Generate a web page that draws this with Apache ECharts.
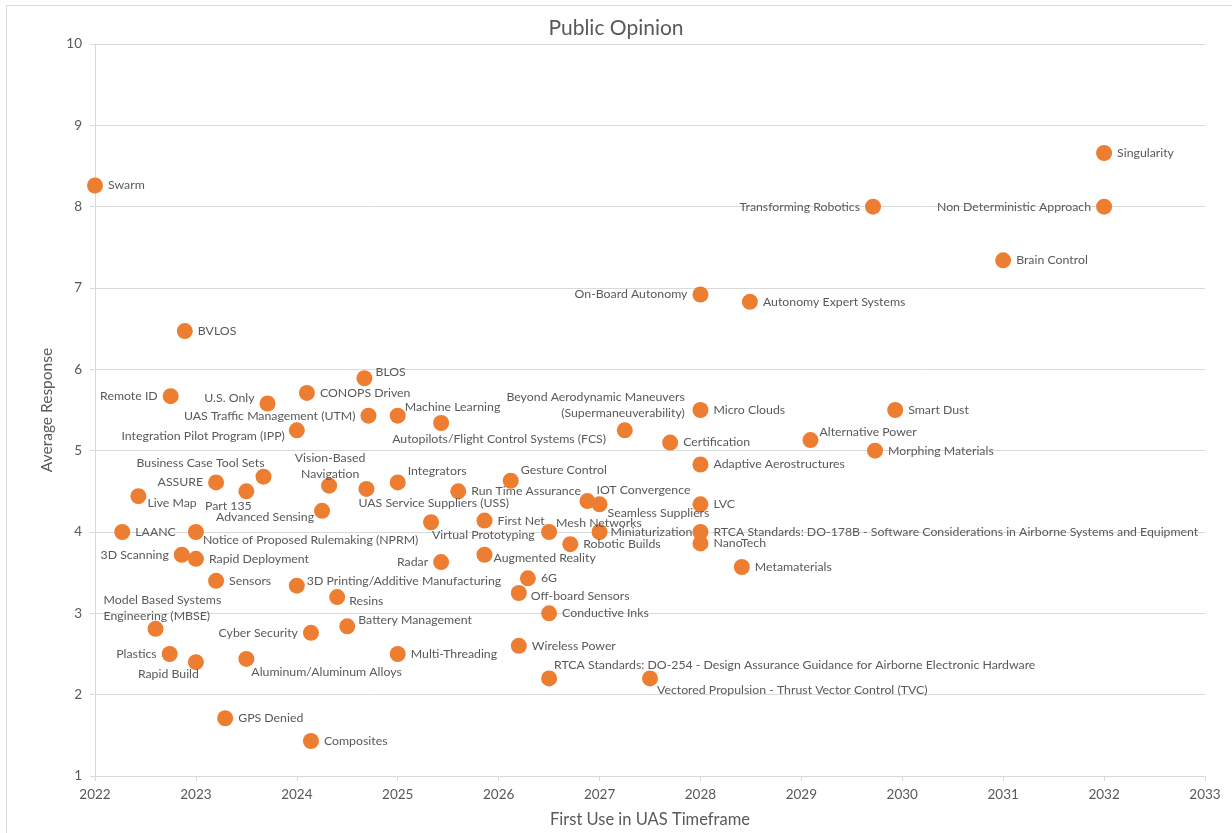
<!DOCTYPE html>
<html>
<head>
<meta charset="utf-8">
<title>Public Opinion</title>
<script src="https://cdn.jsdelivr.net/npm/echarts@6/dist/echarts.min.js"></script>
<style>
  html, body { margin: 0; padding: 0; background: #ffffff; }
  #chart { width: 1232px; height: 833px; }
</style>
</head>
<body>
<div id="chart"></div>
<script>
// Technologies, the year each is expected to be first used in UAS, and the average survey response
const technologies = [
  'Swarm', 'BVLOS', 'Remote ID', 'U.S. Only', 'CONOPS Driven', 'BLOS',
  'UAS Traffic Management (UTM)', 'Machine Learning', 'Autopilots/Flight Control Systems (FCS)',
  'Integration Pilot Program (IPP)', 'Beyond Aerodynamic Maneuvers\n(Supermaneuverability)',
  'Micro Clouds', 'Smart Dust', 'Certification', 'Alternative Power', 'Morphing Materials',
  'Adaptive Aerostructures', 'Business Case Tool Sets', 'ASSURE', 'Part 135', 'Live Map',
  'Vision-Based\nNavigation', 'UAS Service Suppliers (USS)', 'Integrators', 'Advanced Sensing',
  'LAANC', 'Notice of Proposed Rulemaking (NPRM)', '3D Scanning', 'Rapid Deployment', 'Sensors',
  '3D Printing/Additive Manufacturing', 'Resins', 'Model Based Systems\nEngineering (MBSE)',
  'Cyber Security', 'Battery Management', 'Plastics', 'Rapid Build', 'Aluminum/Aluminum Alloys',
  'Multi-Threading', 'GPS Denied', 'Composites', 'Run Time Assurance', 'Gesture Control',
  'IOT Convergence', 'Seamless Suppliers', 'First Net', 'Virtual Prototyping', 'Mesh Networks',
  'Miniaturization', 'Robotic Builds', 'Radar', 'Augmented Reality', '6G', 'Off-board Sensors',
  'Conductive Inks', 'Wireless Power',
  'RTCA Standards: DO-254 - Design Assurance Guidance for Airborne Electronic Hardware',
  'Vectored Propulsion - Thrust Vector Control (TVC)', 'LVC',
  'RTCA Standards: DO-178B - Software Considerations in Airborne Systems and Equipment',
  'NanoTech', 'Metamaterials', 'Singularity', 'Transforming Robotics',
  'Non Deterministic Approach', 'Brain Control', 'On-Board Autonomy', 'Autonomy Expert Systems'
];

const firstUse = [
  2022.0, 2022.89, 2022.75, 2023.71, 2024.10, 2024.67,
  2024.71, 2025.0, 2025.43,
  2024.0, 2027.25,
  2028.0, 2029.93, 2027.70, 2029.09, 2029.73,
  2028.0, 2023.67, 2023.20, 2023.50, 2022.43,
  2024.32, 2024.69, 2025.0, 2024.25,
  2022.27, 2023.0, 2022.86, 2023.0, 2023.20,
  2024.0, 2024.40, 2022.60,
  2024.14, 2024.50, 2022.74, 2023.0, 2023.50,
  2025.0, 2023.29, 2024.14, 2025.60, 2026.12,
  2026.88, 2027.0, 2025.86, 2025.33, 2026.50,
  2027.0, 2026.71, 2025.43, 2025.86, 2026.29, 2026.20,
  2026.50, 2026.20,
  2026.50,
  2027.50, 2028.0,
  2028.0,
  2028.0, 2028.41, 2032.0, 2029.71,
  2032.0, 2031.0, 2028.0, 2028.49
];

const avgResponse = [
  8.26, 6.47, 5.67, 5.58, 5.71, 5.89,
  5.43, 5.43, 5.34,
  5.25, 5.25,
  5.5, 5.5, 5.10, 5.13, 5.0,
  4.83, 4.68, 4.61, 4.50, 4.44,
  4.57, 4.53, 4.61, 4.26,
  4.0, 4.0, 3.72, 3.67, 3.40,
  3.34, 3.20, 2.81,
  2.76, 2.84, 2.50, 2.40, 2.44,
  2.50, 1.71, 1.43, 4.50, 4.63,
  4.38, 4.34, 4.14, 4.12, 4.0,
  4.0, 3.85, 3.63, 3.72, 3.43, 3.25,
  3.0, 2.60,
  2.20,
  2.20, 4.34,
  4.0,
  3.86, 3.57, 8.66, 8.0,
  8.0, 7.34, 6.92, 6.83
];

// Year ticks along the bottom axis
const yearTicks = [2022, 2023, 2024, 2025, 2026, 2027, 2028, 2029, 2030, 2031, 2032, 2033];

// Where each label sits next to its dot: side, then a nudge in pixels
const labelPlacement = {
  'Remote ID': ['left', 0, 0],
  'U.S. Only': ['left', 0, -5],
  'BLOS': ['right', -2, -6],
  'UAS Traffic Management (UTM)': ['left', 0, 0],
  'Machine Learning': ['right', -6, -9],
  'Autopilots/Flight Control Systems (FCS)': ['bottom', 58, -5],
  'Integration Pilot Program (IPP)': ['left', 1, 6],
  'Beyond Aerodynamic Maneuvers\n(Supermaneuverability)': ['left', 73, -25],
  'Alternative Power': ['right', -4, -8],
  'Business Case Tool Sets': ['left', 14, -14],
  'ASSURE': ['left', 0, 0],
  'Part 135': ['bottom', -18, -6],
  'Live Map': ['right', -4, 7],
  'Vision-Based\nNavigation': ['top', 1, 9],
  'UAS Service Suppliers (USS)': ['right', -21, 14],
  'Integrators': ['right', -3, -11],
  'Advanced Sensing': ['left', 5, 6],
  'Notice of Proposed Rulemaking (NPRM)': ['right', -6, 8],
  '3D Scanning': ['left', 0, 0],
  '3D Printing/Additive Manufacturing': ['right', -3, -5],
  'Resins': ['right', -1, 4],
  'Model Based Systems\nEngineering (MBSE)': ['right', -65, -21],
  'Cyber Security': ['left', 0, 0],
  'Battery Management': ['right', -2, -6],
  'Plastics': ['left', 0, 0],
  'Rapid Build': ['left', 16, 12],
  'Aluminum/Aluminum Alloys': ['right', -8, 13],
  'Gesture Control': ['right', -3, -11],
  'IOT Convergence': ['right', -4, -11],
  'Seamless Suppliers': ['right', -5, 9],
  'Virtual Prototyping': ['right', -12, 13],
  'Mesh Networks': ['right', -6, -9],
  'Miniaturization': ['right', -2, 0],
  'Radar': ['left', 0, 0],
  'Augmented Reality': ['right', -4, 3],
  'Off-board Sensors': ['right', -1, 3],
  'RTCA Standards: DO-254 - Design Assurance Guidance for Airborne Electronic Hardware': ['right', -8, -13],
  'Vectored Propulsion - Thrust Vector Control (TVC)': ['right', -6, 12],
  'Transforming Robotics': ['left', 0, 0],
  'Non Deterministic Approach': ['left', 0, 0],
  'On-Board Autonomy': ['left', 0, 0]
};

const TEXT = '#595959';
const LINE = '#d9d9d9';
const FONT = 'Lato, "Open Sans", sans-serif';

const points = technologies.map((name, i) => {
  const p = labelPlacement[name] || ['right', 0, 0];
  return {
    name: name,
    value: [firstUse[i], avgResponse[i]],
    label: { position: p[0], offset: [p[1], p[2]] }
  };
});

const chart = echarts.init(document.getElementById('chart'), null, { renderer: 'canvas' });

chart.setOption({
  backgroundColor: '#ffffff',
  animation: false,
  title: {
    text: 'Public Opinion',
    left: 'center',
    top: 13,
    textStyle: { color: TEXT, fontFamily: FONT, fontSize: 21, fontWeight: 'normal' }
  },
  graphic: [{
    type: 'rect',
    shape: { x: 6.5, y: 5.5, width: 1240, height: 840 },
    style: { fill: 'none', stroke: LINE, lineWidth: 1 },
    silent: true,
    z: -1
  }],
  grid: { left: 95, right: 27, top: 44, bottom: 55 },
  xAxis: {
    type: 'value',
    min: yearTicks[0],
    max: yearTicks[yearTicks.length - 1],
    interval: 1,
    name: 'First Use in UAS Timeframe',
    nameLocation: 'middle',
    nameGap: 35,
    nameTextStyle: { color: TEXT, fontFamily: FONT, fontSize: 16.5 },
    axisLine: { show: true, lineStyle: { color: LINE, width: 1 } },
    axisTick: { show: true, length: 5, lineStyle: { color: LINE } },
    axisLabel: { color: TEXT, fontFamily: FONT, fontSize: 13.5, margin: 12, formatter: v => String(v) },
    splitLine: { show: false }
  },
  yAxis: {
    type: 'value',
    min: 1,
    max: 10,
    interval: 1,
    name: 'Average Response',
    nameLocation: 'middle',
    nameGap: 34,
    nameTextStyle: { color: TEXT, fontFamily: FONT, fontSize: 15.5 },
    axisLine: { show: true, lineStyle: { color: LINE, width: 1 } },
    axisTick: { show: true, length: 5, lineStyle: { color: LINE } },
    axisLabel: { color: TEXT, fontFamily: FONT, fontSize: 13.5, margin: 13 },
    splitLine: { show: true, lineStyle: { color: LINE, width: 1 } }
  },
  series: [{
    type: 'scatter',
    symbol: 'circle',
    symbolSize: 16,
    itemStyle: { color: '#ED7D31', opacity: 1 },
    label: {
      show: true,
      formatter: '{b}',
      color: TEXT,
      fontFamily: FONT,
      fontSize: 12.3,
      lineHeight: 16,
      distance: 5
    },
    emphasis: { disabled: true },
    data: points
  }]
});
</script>
</body>
</html>
